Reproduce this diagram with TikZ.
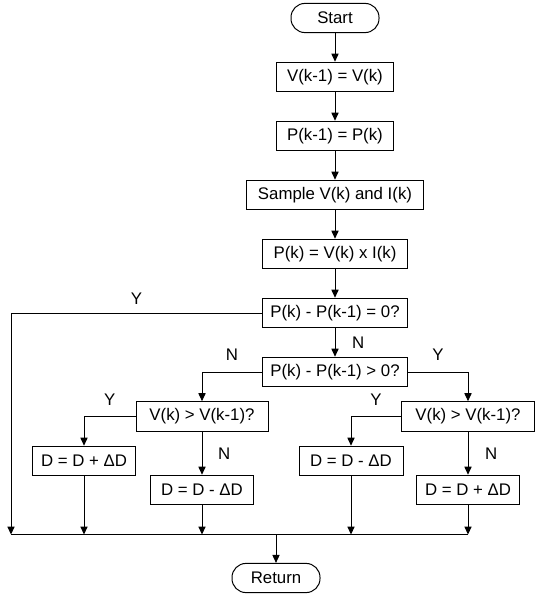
\documentclass[tikz,border=0pt]{standalone}
\usepackage{fontspec}
\setmainfont{Liberation Sans}
\usetikzlibrary{arrows.meta}

\begin{document}
\begin{tikzpicture}[
    x=0.5pt, y=-0.5pt,
    ->,
    >={Triangle[length=4pt, width=3.6pt]},
    line width=0.5pt,
    node distance=29.5pt,
    font=\fontsize{8.4}{10}\selectfont,
    box/.style={rectangle, draw, minimum height=14.8pt, inner sep=1pt},
    term/.style={rectangle, draw, rounded corners=7pt, minimum width=44pt, minimum height=14.6pt, inner sep=1pt},
    lbl/.style={font=\fontsize{8.4}{10}\selectfont}
  ]
  \useasboundingbox (0,0) rectangle (543,599);

  % main column
  \node[term] (start) at (335,18) {Start};
  \node[box, minimum width=58.5pt] (v1) [below of=start] {V(k-1) = V(k)};
  \node[box, minimum width=58.5pt] (p1) [below of=v1] {P(k-1) = P(k)};
  \node[box, minimum width=88.5pt] (samp) [below of=p1] {Sample V(k) and I(k)};
  \node[box, minimum width=72.5pt] (pw) [below of=samp] {P(k) = V(k) x I(k)};
  \node[box, minimum width=72.5pt] (eq0) [below of=pw] {P(k) - P(k-1) = 0?};
  \node[box, minimum width=72.5pt] (gt0) [below of=eq0] {P(k) - P(k-1) > 0?};

  % branches
  \node[box, minimum width=66pt] (vl) at (202,416.5) {V(k) > V(k-1)?};
  \node[box, minimum width=66.5pt] (vr) at (468,416.5) {V(k) > V(k-1)?};
  \node[box, minimum width=51.5pt] (dl1) at (84,461) {D = D + ΔD};
  \node[box, minimum width=51.5pt] (dl2) at (202,490) {D = D - ΔD};
  \node[box, minimum width=52pt] (dr1) at (351,461) {D = D - ΔD};
  \node[box, minimum width=51.5pt] (dr2) at (468,490) {D = D + ΔD};
  \node[term] (ret) at (276,578) {Return};

  % merge line
  \coordinate (m0) at (11,534.5);
  \coordinate (mc) at (276,534.5);
  \coordinate (m4) at (468,534.5);

  % arrows
  \draw (start) -- (v1);
  \draw (v1) -- (p1);
  \draw (p1) -- (samp);
  \draw (samp) -- (pw);
  \draw (pw) -- (eq0);
  \draw (eq0) -- (gt0) node[midway, right=5pt, lbl] {N};

  \draw (eq0.west) -| node[pos=0.25, above=0.5pt, lbl] {Y} (m0);
  \draw (gt0.west) -| node[pos=0.25, above=2pt, lbl] {N} (vl.north);
  \draw (gt0.east) -| node[pos=0.25, above=2pt, lbl] {Y} (vr.north);
  \draw (vl.west) -| node[pos=0.25, above=2pt, lbl] {Y} (dl1.north);
  \draw (vl) -- (dl2) node[midway, right=4.5pt, lbl] {N};
  \draw (vr.west) -| node[pos=0.25, above=2pt, lbl] {Y} (dr1.north);
  \draw (vr) -- (dr2) node[midway, right=5pt, lbl] {N};

  \draw (dl1) -- (dl1 |- mc);
  \draw (dl2) -- (dl2 |- mc);
  \draw (dr1) -- (dr1 |- mc);
  \draw (dr2) -- (dr2 |- mc);
  \draw[-] (m0) -- (m4);
  \draw (mc) -- (ret);

\end{tikzpicture}
\end{document}
